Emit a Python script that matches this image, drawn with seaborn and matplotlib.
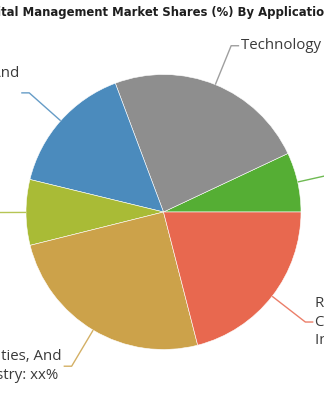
import numpy as np
import matplotlib
matplotlib.use("Agg")
import matplotlib.pyplot as plt
from matplotlib import font_manager
import seaborn as sns

# ---- data ----
segments = ["Other", "Technology", "Banking", "Healthcare", "Energy", "Retail"]
shares = [7.0, 23.7, 15.5, 7.7, 25.1, 21.0]
labels = [
    "Other Industries: xx%",
    "Technology And Telecom: xx%",
    "Banking, Financial Services, And\nInsurance:\nxx%",
    "Healthcare: xx%",
    "Energy, Utilities, And\nWater Industry: xx%",
    "Retail And\nConsumer Goods\nIndustry: xx%",
]
colors = ["#55ae34", "#8e8e8e", "#4b8bbd", "#a9bb36", "#cca24a", "#e8684f"]
title = "Digital Management Market Shares (%) By Application"

sns.set_theme(style="white")
plt.rcParams["font.family"] = ["Open Sans", "DejaVu Sans"]

W, H = 324, 400
fig = plt.figure(figsize=(W / 100, H / 100), dpi=100)
ax = fig.add_axes([0, 0, 1, 1])

cx, cy, R = 163.5, H - 212, 137.5
wedges, _ = ax.pie(shares, colors=colors, startangle=0, counterclock=True,
                   center=(cx, cy), radius=R, frame=True,
                   wedgeprops=dict(edgecolor="white", linewidth=0.4))
ax.set_xlim(0, W)
ax.set_ylim(0, H)
ax.set_aspect("equal")
ax.axis("off")

# leader lines and labels
radial = 42
horiz = 8
lkw = dict(fontsize=10.8, color="#3a3a3a", linespacing=1.36,
           multialignment="left")
for w, lab, col in zip(wedges, labels, colors):
    mid = np.deg2rad((w.theta1 + w.theta2) / 2)
    x0, y0 = cx + R * np.cos(mid), cy + R * np.sin(mid)
    x1, y1 = cx + (R + radial) * np.cos(mid), cy + (R + radial) * np.sin(mid)
    side = 1 if np.cos(mid) >= 0 else -1
    x2 = x1 + side * horiz
    ax.plot([x0, x1, x2], [y0, y1, y1], color=col, lw=1.0, alpha=0.85,
            solid_capstyle="butt", clip_on=False)
    ax.text(x2 + side * 2, y1, lab, ha="left" if side > 0 else "right",
            va="center", **lkw)

# title: condensed heavy font, fitted so "tal ... Applicatio" spans the width
def pick_font():
    for name in ["Liberation Sans Narrow", "DejaVu Sans"]:
        try:
            font_manager.findfont(font_manager.FontProperties(family=name),
                                  fallback_to_default=False)
            return name
        except Exception:
            pass
    return "DejaVu Sans"

tfam = pick_font()
fig.canvas.draw()
renderer = fig.canvas.get_renderer()
tkw = dict(fontweight="bold", color="#1e1e1e", family=[tfam])

def width(s, fs):
    t = fig.text(0, 0, s, fontsize=fs, **tkw)
    wpx = t.get_window_extent(renderer).width
    t.remove()
    return wpx

fs = 14
vis = width("Digital Management Market Shares (%) By Applicatio", fs) - width("Digi", fs)
fs = fs * 322 / vis
w0 = width("Digi", fs)
fig.text((-w0 + 1) / W, 1 - 12.5 / H, title, ha="left", va="center",
         fontsize=fs, **tkw)

fig.savefig("out.png", dpi=100)
